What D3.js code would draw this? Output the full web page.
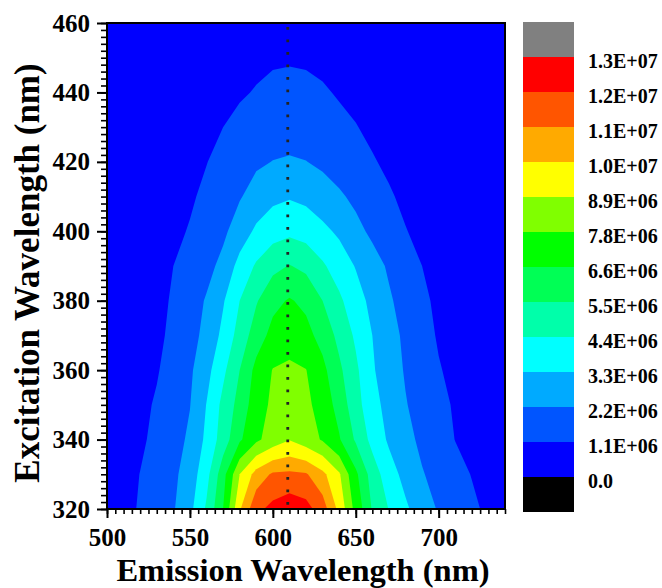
<!DOCTYPE html>
<html>
<head>
<meta charset="utf-8">
<script src="https://cdn.jsdelivr.net/npm/d3@7"></script>
<style>
  body { margin: 0; background: #fff; }
  text { font-family: "Liberation Serif", "Times New Roman", serif; font-weight: bold; fill: #000; }
</style>
</head>
<body>
<script>
// grid of the excitation-emission map (nm)
var emission = [500, 510, 520, 530, 540, 550, 560, 570, 580, 590, 600, 610, 620,
                630, 640, 650, 660, 670, 680, 690, 700, 710, 720, 730, 740];
var excitation = [460, 450, 440, 430, 420, 410, 400, 390, 380, 370, 360, 350, 340, 330, 320];

// intensity, in units of 1E+06, one row per excitation wavelength (top row = 460 nm)
var intensity = [
  [0.02,0.03,0.05,0.08,0.12,0.18,0.27,0.37,0.48,0.60,0.68,0.72,0.68,0.62,0.52,0.42,0.33,0.25,0.18,0.13,0.09,0.06,0.04,0.03,0.02],
  [0.03,0.05,0.07,0.11,0.17,0.26,0.38,0.52,0.68,0.85,0.97,1.00,0.97,0.88,0.74,0.60,0.46,0.35,0.26,0.18,0.13,0.09,0.06,0.04,0.03],
  [0.04,0.06,0.10,0.16,0.26,0.40,0.58,0.78,0.98,1.17,1.34,1.40,1.34,1.20,1.02,0.84,0.66,0.50,0.36,0.26,0.18,0.12,0.08,0.05,0.04],
  [0.05,0.08,0.14,0.25,0.40,0.60,0.82,1.10,1.38,1.60,1.76,1.82,1.75,1.55,1.32,1.14,0.90,0.68,0.50,0.36,0.25,0.18,0.12,0.08,0.05],
  [0.06,0.10,0.20,0.35,0.55,0.80,1.07,1.45,1.80,2.05,2.22,2.29,2.22,2.00,1.72,1.45,1.18,0.92,0.70,0.50,0.36,0.25,0.17,0.12,0.08],
  [0.08,0.15,0.28,0.45,0.70,0.95,1.34,1.73,2.12,2.60,3.05,3.21,3.05,2.70,2.35,1.97,1.59,1.21,0.90,0.65,0.45,0.32,0.22,0.15,0.10],
  [0.10,0.20,0.35,0.60,0.85,1.18,1.59,2.00,2.70,3.50,3.95,4.16,3.95,3.55,3.12,2.50,1.99,1.57,1.14,0.85,0.60,0.42,0.30,0.20,0.12],
  [0.10,0.25,0.45,0.75,1.10,1.49,1.89,2.48,3.68,4.53,5.20,5.55,5.25,4.55,3.88,3.24,2.63,2.06,1.58,1.10,0.80,0.55,0.40,0.25,0.15],
  [0.15,0.30,0.55,0.85,1.20,1.73,2.29,3.20,4.40,5.40,6.30,6.70,6.35,5.50,4.60,3.77,3.00,2.34,1.80,1.30,0.90,0.65,0.45,0.30,0.20],
  [0.15,0.35,0.60,0.90,1.31,1.83,2.50,3.58,4.84,6.05,6.95,7.38,6.95,6.20,5.20,4.22,3.30,2.61,1.99,1.48,1.00,0.72,0.50,0.35,0.20],
  [0.20,0.45,0.75,1.02,1.52,2.03,2.95,4.16,5.50,6.93,7.85,7.98,7.83,6.90,5.72,4.62,3.42,2.72,2.11,1.64,1.17,0.85,0.60,0.40,0.25],
  [0.25,0.55,0.85,1.21,1.69,2.17,3.33,4.70,5.90,7.20,8.05,8.44,8.10,7.25,6.19,4.81,3.70,2.91,2.26,1.80,1.35,1.00,0.70,0.45,0.30],
  [0.30,0.62,0.92,1.37,1.82,2.37,3.54,4.92,6.42,7.58,8.30,8.85,8.30,7.70,6.70,5.35,4.05,3.14,2.51,1.98,1.53,1.08,0.75,0.50,0.35],
  [0.30,0.70,1.12,1.54,1.98,2.70,4.03,6.16,8.90,10.40,11.15,11.20,11.10,10.27,9.04,6.84,4.99,3.78,2.96,2.27,1.85,1.45,1.06,0.75,0.45],
  [0.35,0.75,1.21,1.66,2.11,3.00,4.56,6.60,9.88,11.75,12.28,12.66,12.35,11.50,9.70,7.40,5.40,4.36,3.48,2.73,2.10,1.70,1.30,0.90,0.55]
];

// contour levels (1E+06) and colour bar
var levels = [0, 1.1, 2.2, 3.3, 4.4, 5.5, 6.6, 7.8, 8.9, 10, 11, 12, 13];
var levelLabels = ["0.0", "1.1E+06", "2.2E+06", "3.3E+06", "4.4E+06", "5.5E+06", "6.6E+06",
                   "7.8E+06", "8.9E+06", "1.0E+07", "1.1E+07", "1.2E+07", "1.3E+07"];
var bandColors = ["#000000", "#0000ff", "#0055ff", "#00aaff", "#00ffff", "#00ffaa", "#00ff55",
                  "#00ff00", "#80ff00", "#ffff00", "#ffaa00", "#ff5500", "#ff0000", "#808080"];

var xTicks = [500, 550, 600, 650, 700];
var yTicks = [320, 340, 360, 380, 400, 420, 440, 460];
var peakEmission = 609;

var W = 662, H = 588;
var plotL = 107, plotR = 505, plotT = 23, plotB = 509;

var svg = d3.select("body").append("svg")
  .attr("width", W).attr("height", H);

var x = d3.scaleLinear().domain([500, 740]).range([plotL, plotR]);
var y = d3.scaleLinear().domain([320, 460]).range([plotB, plotT]);

svg.append("clipPath").attr("id", "plotclip")
  .append("rect")
  .attr("x", plotL).attr("y", plotT)
  .attr("width", plotR - plotL).attr("height", plotB - plotT);

// where d3.contours puts a grid sample (0 or 0.5 cell offset)
var probe = d3.contours().size([2, 1]).thresholds([0.5])([0, 1])[0];
var probeX = d3.min(probe.coordinates, function(poly) {
  return d3.min(poly, function(ring) { return d3.min(ring, function(p) { return p[0]; }); });
});
var off = probeX - 0.5;

var dE = emission[1] - emission[0];
var dX = excitation[1] - excitation[0];
var gridPath = d3.geoPath(d3.geoTransform({
  point: function(c, r) {
    this.stream.point(x(emission[0] + (c - off) * dE), y(excitation[0] + (r - off) * dX));
  }
}));

var values = [];
intensity.forEach(function(row) {
  row.forEach(function(v) { values.push(v * 1e6); });
});

var contours = d3.contours()
  .size([emission.length, excitation.length])
  .thresholds(levels.map(function(v) { return v * 1e6; }))
  (values);

var plot = svg.append("g").attr("clip-path", "url(#plotclip)");

plot.append("rect")
  .attr("x", plotL).attr("y", plotT)
  .attr("width", plotR - plotL).attr("height", plotB - plotT)
  .attr("fill", bandColors[1]);

plot.selectAll("path.band")
  .data(contours)
  .enter()
  .append("path")
  .attr("class", "band")
  .attr("d", gridPath)
  .attr("fill", function(d, i) { return bandColors[i + 1]; });

// dotted line at the emission maximum
plot.append("line")
  .attr("x1", x(peakEmission)).attr("x2", x(peakEmission))
  .attr("y1", y(460) + 4).attr("y2", y(320))
  .attr("stroke", "#222")
  .attr("stroke-width", 2.8)
  .attr("stroke-dasharray", "2.8 9.7");

// axes
var minorX = d3.range(500, 741, 5);
var minorY = d3.range(320, 461, 2);

svg.append("g")
  .attr("transform", "translate(0," + plotB + ")")
  .call(d3.axisBottom(x).tickValues(minorX).tickSize(5).tickFormat(""))
  .call(function(g) { g.select(".domain").remove(); g.selectAll("line").attr("stroke-width", 1.6); });

svg.append("g")
  .attr("transform", "translate(" + plotL + ",0)")
  .call(d3.axisLeft(y).tickValues(minorY).tickSize(6).tickFormat(""))
  .call(function(g) { g.select(".domain").remove(); g.selectAll("line").attr("stroke-width", 1.6); });

svg.append("g")
  .attr("transform", "translate(0," + plotB + ")")
  .call(d3.axisBottom(x).tickValues(xTicks).tickSize(9).tickPadding(10).tickFormat(d3.format("d")))
  .call(function(g) {
    g.select(".domain").remove();
    g.selectAll("line").attr("stroke-width", 2);
    g.selectAll("text").attr("font-size", 25);
  });

svg.append("g")
  .attr("transform", "translate(" + plotL + ",0)")
  .call(d3.axisLeft(y).tickValues(yTicks).tickSize(10).tickPadding(7).tickFormat(d3.format("d")))
  .call(function(g) {
    g.select(".domain").remove();
    g.selectAll("line").attr("stroke-width", 2);
    g.selectAll("text").attr("font-size", 25);
  });

svg.selectAll(".tick text").attr("font-family", null);

// frame
svg.append("rect")
  .attr("x", plotL).attr("y", plotT)
  .attr("width", plotR - plotL).attr("height", plotB - plotT)
  .attr("fill", "none")
  .attr("stroke", "#000")
  .attr("stroke-width", 2);

// axis titles
svg.append("text")
  .attr("x", (plotL + plotR) / 2 - 3)
  .attr("y", 580.5)
  .attr("text-anchor", "middle")
  .attr("font-size", 32.5)
  .text("Emission Wavelength (nm)");

svg.append("text")
  .attr("transform", "translate(39,273) rotate(-90)")
  .attr("text-anchor", "middle")
  .attr("font-size", 35)
  .text("Excitation Wavelength (nm)");

// colour bar
var legY = d3.scaleLinear().domain([0, bandColors.length]).range([512, 22]);
var legend = svg.append("g");

legend.selectAll("rect")
  .data(bandColors)
  .enter()
  .append("rect")
  .attr("x", 523)
  .attr("width", 51)
  .attr("y", function(d, i) { return legY(i + 1); })
  .attr("height", function(d, i) { return legY(i) - legY(i + 1); })
  .attr("fill", function(d) { return d; });

legend.selectAll("text")
  .data(levelLabels)
  .enter()
  .append("text")
  .attr("x", 588)
  .attr("y", function(d, i) { return legY(i + 1) + 4; })
  .attr("dy", "0.35em")
  .attr("font-size", 20)
  .text(function(d) { return d; });
</script>
</body>
</html>
